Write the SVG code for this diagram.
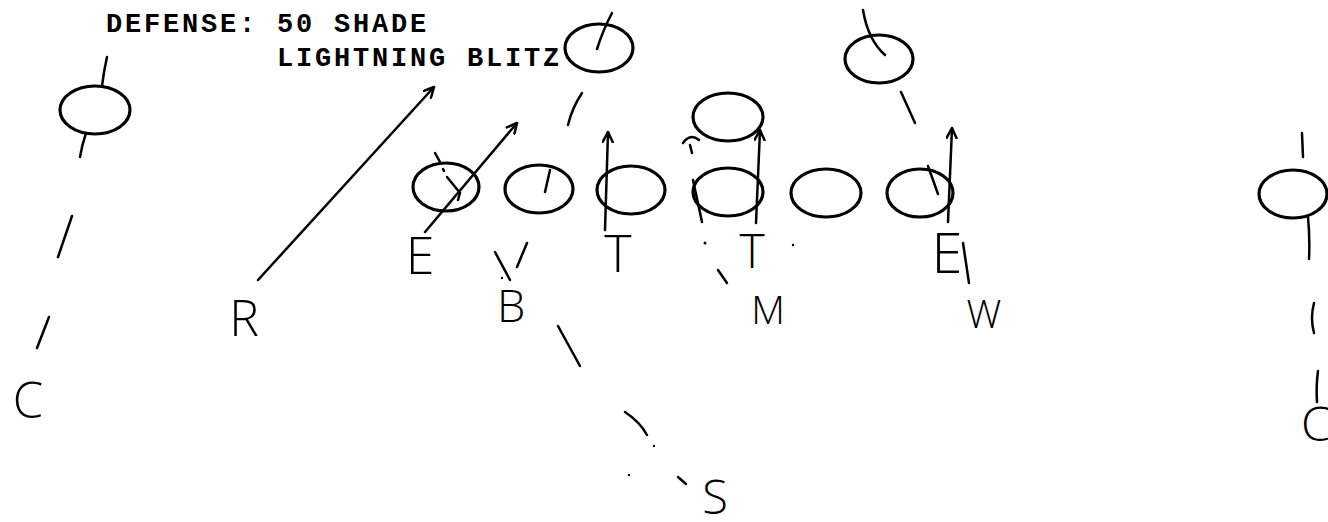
<svg xmlns="http://www.w3.org/2000/svg" width="1328" height="522" viewBox="0 0 1328 522">
<defs>
<style>
.p{fill:none;stroke:#000;stroke-width:3.2}
.r{fill:none;stroke:#000;stroke-width:2.5;stroke-linecap:round}
.d{fill:#000}
.lbl{font-family:"Open Sans","Liberation Sans",sans-serif;font-weight:300;fill:#000;text-anchor:middle}
.ttl{font-family:"Liberation Mono","DejaVu Sans Mono",monospace;font-weight:bold;font-size:27px;letter-spacing:2.8px;fill:#000}
</style>
<marker id="ah" viewBox="0 0 12 12" refX="11" refY="6" markerWidth="12" markerHeight="12" markerUnits="userSpaceOnUse" orient="auto">
<path d="M1,1 L11,6 L1,11" fill="none" stroke="#000" stroke-width="2.5" stroke-linecap="round" stroke-linejoin="round"/>
</marker>
</defs>
<rect width="1328" height="522" fill="#fff"/>
<g id="title">
<text class="ttl" x="106" y="32">DEFENSE: 50 SHADE</text>
<text class="ttl" x="277" y="66">LIGHTNING BLITZ</text>
</g>
<g id="offense">
<g id="o-wide-left"><ellipse class="p" cx="95" cy="110" rx="35" ry="24"/></g>
<g id="o-top-center"><ellipse class="p" cx="599" cy="48" rx="34" ry="24"/></g>
<g id="o-top-right"><ellipse class="p" cx="879" cy="59" rx="34" ry="24"/></g>
<g id="o-line-1"><ellipse class="p" cx="446" cy="187" rx="33" ry="24"/></g>
<g id="o-line-2"><ellipse class="p" cx="539" cy="189" rx="34" ry="24"/></g>
<g id="o-line-3"><ellipse class="p" cx="631" cy="190" rx="34" ry="24"/></g>
<g id="o-line-4"><ellipse class="p" cx="728" cy="192" rx="35" ry="24"/></g>
<g id="o-line-5"><ellipse class="p" cx="826" cy="193" rx="35" ry="24"/></g>
<g id="o-line-6"><ellipse class="p" cx="920" cy="193" rx="33" ry="24"/></g>
<g id="o-back"><ellipse class="p" cx="728" cy="117" rx="35" ry="24"/></g>
<g id="o-wide-right"><ellipse class="p" cx="1293" cy="194" rx="34" ry="24"/></g>
</g>
<g id="defense">
<g id="d-c-left"><text class="lbl" x="28" y="418" font-size="49">C</text></g>
<g id="d-r"><text class="lbl" x="244" y="336" font-size="50">R</text></g>
<g id="d-e-left"><text class="lbl" x="420" y="274" font-size="52">E</text></g>
<g id="d-t-left"><text class="lbl" x="618" y="272" font-size="52">T</text></g>
<g id="d-t-right"><text class="lbl" x="752" y="268" font-size="48">T</text></g>
<g id="d-b"><text class="lbl" x="511" y="322" font-size="45">B</text></g>
<g id="d-m"><text class="lbl" x="768" y="324" font-size="39">M</text></g>
<g id="d-e-right"><text class="lbl" x="947" y="273" font-size="56">E</text></g>
<g id="d-w"><text class="lbl" x="984" y="328" font-size="39">W</text></g>
<g id="d-s"><text class="lbl" x="715" y="514" font-size="47">S</text></g>
<g id="d-c-right"><text class="lbl" x="1316" y="441" font-size="48">C</text></g>
</g>
<g id="connectors">
<path class="r" d="M107,57 Q104,70 102,86"/>
<path class="r" d="M86,133 Q82,145 80,157"/>
<path class="r" d="M72,216 L58,257"/>
<path class="r" d="M49,317 L37,348"/>
<path class="r" d="M258,280 L434,87" marker-end="url(#ah)"/>
<path class="r" d="M425,232 L517,123" marker-end="url(#ah)"/>
<path class="r" d="M435,153 L440,162"/>
<path class="r" d="M443,169 L444,171"/>
<path class="r" d="M447,177 L460,193 L458,200"/>
<path class="r" d="M612,13 Q603,30 597,49"/>
<path class="r" d="M582,93 Q572,108 568,125"/>
<path class="r" d="M550,170 L545,192"/>
<path class="r" d="M605,230 L608,132" marker-end="url(#ah)"/>
<path class="r" d="M702,222 L693,180"/>
<path class="r" d="M690,145 L692,153"/>
<path class="r" d="M683,143 Q690,133 699,140"/>
<path class="r" d="M756,223 L760,130" marker-end="url(#ah)"/>
<path class="r" d="M863,10 Q868,40 885,55"/>
<path class="r" d="M901,92 L915,123"/>
<path class="r" d="M928,166 L938,194"/>
<path class="r" d="M948,222 L952,128" marker-end="url(#ah)"/>
<path class="r" d="M963,243 L969,283"/>
<path class="r" d="M1302,133 L1303,157"/>
<path class="r" d="M1308,217 Q1310,238 1309,259"/>
<path class="r" d="M1314,303 Q1310,318 1314,333"/>
<path class="r" d="M1318,371 Q1316,385 1317,402"/>
<path class="r" d="M495,252 L510,280"/>
<path class="r" d="M527,243 L517,267"/>
<path class="r" d="M558,326 L580,366"/>
<path class="r" d="M625,412 Q640,422 647,435"/>
<path class="r" d="M678,477 L686,484"/>
<path class="r" d="M718,270 L727,283"/>
<circle class="d" cx="502" cy="278" r="1.2"/>
<circle class="d" cx="654" cy="446" r="1.2"/>
<circle class="d" cx="629" cy="475" r="1.2"/>
<circle class="d" cx="705" cy="243" r="1.5"/>
<circle class="d" cx="793" cy="245" r="1.2"/>
</g>
</svg>
